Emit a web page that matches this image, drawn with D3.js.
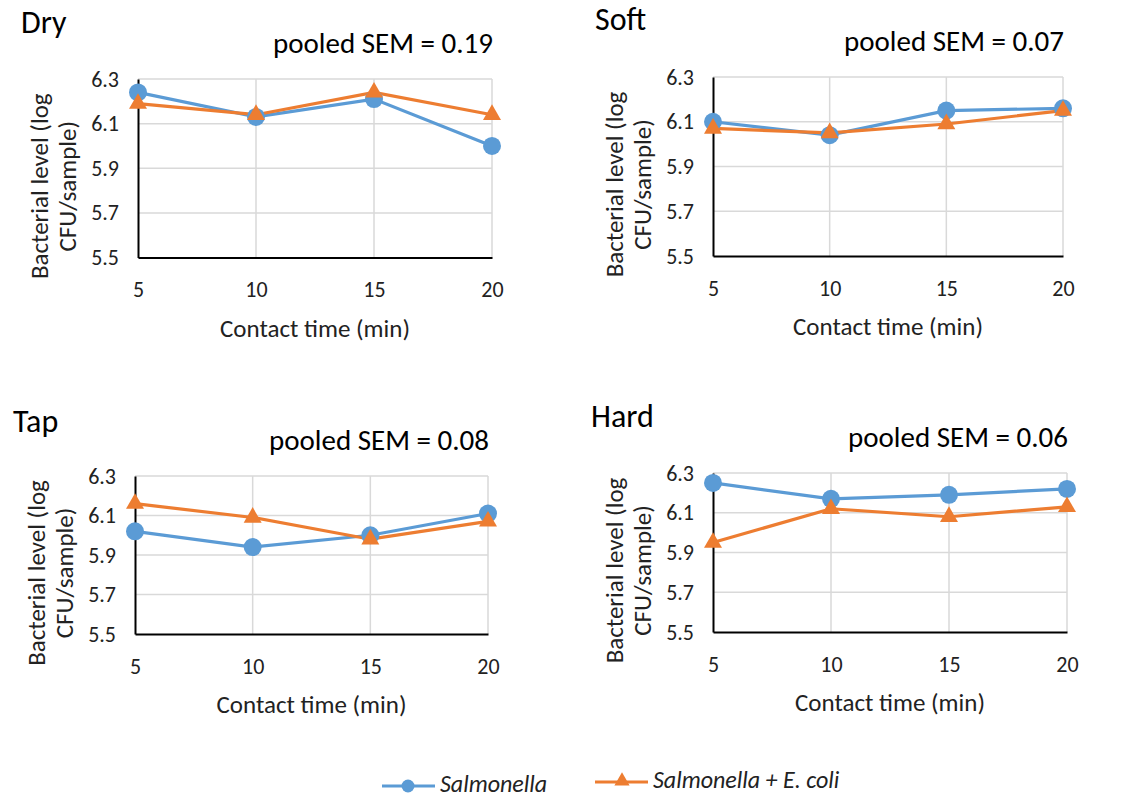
<!DOCTYPE html>
<html><head><meta charset="utf-8">
<script src="https://cdn.jsdelivr.net/npm/d3@7"></script>
<style>
body{margin:0;background:#fff;}
text{font-family:Carlito,Lato,"Open Sans",sans-serif;fill:#000;}
</style></head>
<body><svg id="c" width="1130" height="798"></svg>
<script>
const times = [5, 10, 15, 20];
const yTicks = [5.5, 5.7, 5.9, 6.1, 6.3];
const panelNames = ["Dry", "Soft", "Tap", "Hard"];
const pooledSEM = ["0.19", "0.07", "0.08", "0.06"];
const salmonella = {
  Dry:  [6.24, 6.13, 6.21, 6.00],
  Soft: [6.10, 6.04, 6.15, 6.16],
  Tap:  [6.02, 5.94, 6.00, 6.11],
  Hard: [6.25, 6.17, 6.19, 6.22]
};
const salmonellaEcoli = {
  Dry:  [6.19, 6.14, 6.24, 6.14],
  Soft: [6.07, 6.05, 6.09, 6.15],
  Tap:  [6.16, 6.09, 5.98, 6.07],
  Hard: [5.95, 6.12, 6.08, 6.13]
};
const seriesNames = ["Salmonella", "Salmonella + E. coli"];
const colors = ["#5B9BD5", "#ED7D31"];

// layout
const layout = {
  Dry:  {l:138, r:492, t:79,  b:257.5, titleX:21,  titleY:33},
  Soft: {l:713, r:1063, t:77, b:256,  titleX:595, titleY:30},
  Tap:  {l:135, r:488, t:476, b:634, titleX:13,  titleY:432},
  Hard: {l:713, r:1067, t:473, b:632, titleX:591, titleY:427}
};

const svg = d3.select("#c");
const tri = d3.symbol().type(d3.symbolTriangle).size(140);

panelNames.forEach((name, i) => {
  const L = layout[name];
  const x = d3.scaleLinear().domain([5, 20]).range([L.l, L.r]);
  const y = d3.scaleLinear().domain([5.5, 6.3]).range([L.b, L.t]);
  const g = svg.append("g");

  // gridlines
  g.selectAll(".hg").data(yTicks.filter(v => v > 5.5)).join("line")
    .attr("x1", L.l).attr("x2", L.r)
    .attr("y1", d => y(d)).attr("y2", d => y(d))
    .attr("stroke", "#d9d9d9").attr("stroke-width", 1.5);
  g.selectAll(".vg").data(times.filter(v => v > 5)).join("line")
    .attr("x1", d => x(d)).attr("x2", d => x(d))
    .attr("y1", L.t).attr("y2", L.b)
    .attr("stroke", "#d9d9d9").attr("stroke-width", 1.5);

  // axes
  const xa = g.append("g").attr("transform", `translate(0,${L.b})`)
    .call(d3.axisBottom(x).tickValues(times).tickSize(0).tickPadding(24).tickFormat(d3.format("d")));
  const ya = g.append("g").attr("transform", `translate(${L.l},0)`)
    .call(d3.axisLeft(y).tickValues(yTicks).tickSize(0).tickPadding(19).tickFormat(d3.format(".1f")));
  [xa, ya].forEach(a => {
    a.attr("font-size", null).attr("font-family", null);
    a.select(".domain").attr("stroke", "#000").attr("stroke-width", 2);
    a.selectAll("text").style("font-size", "22px").style("fill", "#222");
  });

  // titles
  g.append("text").attr("x", L.titleX).attr("y", L.titleY)
    .style("font-size", "32px").text(name);
  g.append("text").attr("x", L.r + 1).attr("y", L.t - 26)
    .attr("text-anchor", "end").style("font-size", "29px")
    .text("pooled SEM = " + pooledSEM[i]);
  g.append("text").attr("x", (L.l + L.r) / 2).attr("y", L.b + 79)
    .attr("text-anchor", "middle").style("font-size", "25px").style("fill", "#222")
    .text("Contact time (min)");
  const cy = (L.t + L.b) / 2 + 18;
  const yt = g.append("text").attr("transform", `translate(${L.l - 90},${cy}) rotate(-90)`)
    .attr("text-anchor", "middle").style("font-size", "25px").style("fill", "#222");
  yt.append("tspan").attr("x", 0).attr("dy", 0).text("Bacterial level (log");
  yt.append("tspan").attr("x", 0).attr("dy", 28).text("CFU/sample)");

  // series
  const line = d3.line().x((d, j) => x(times[j])).y(d => y(d));
  const s1 = salmonella[name], s2 = salmonellaEcoli[name];
  g.append("path").datum(s1).attr("d", line).attr("fill", "none")
    .attr("stroke", colors[0]).attr("stroke-width", 3.2);
  g.append("path").datum(s2).attr("d", line).attr("fill", "none")
    .attr("stroke", colors[1]).attr("stroke-width", 3.2);
  g.selectAll(".c1").data(s1).join("circle")
    .attr("cx", (d, j) => x(times[j])).attr("cy", d => y(d)).attr("r", 9)
    .attr("fill", colors[0]);
  g.selectAll(".t2").data(s2).join("path")
    .attr("d", tri).attr("transform", (d, j) => `translate(${x(times[j])},${y(d)})`)
    .attr("fill", colors[1]);
});

// legend
const lg = svg.append("g");
lg.append("line").attr("x1", 382).attr("x2", 435).attr("y1", 786).attr("y2", 786)
  .attr("stroke", colors[0]).attr("stroke-width", 3);
lg.append("circle").attr("cx", 408).attr("cy", 786).attr("r", 6.5).attr("fill", colors[0]);
lg.append("text").attr("x", 440).attr("y", 792).style("font-size", "24px").attr("font-style", "italic")
  .style("fill", "#222").text(seriesNames[0]);
lg.append("line").attr("x1", 595).attr("x2", 648).attr("y1", 782).attr("y2", 782)
  .attr("stroke", colors[1]).attr("stroke-width", 3);
lg.append("path").attr("d", d3.symbol().type(d3.symbolTriangle).size(100)())
  .attr("transform", "translate(622,781)").attr("fill", colors[1]);
lg.append("text").attr("x", 653).attr("y", 788).style("font-size", "24px").attr("font-style", "italic")
  .style("fill", "#222").text(seriesNames[1]);
</script></body></html>
